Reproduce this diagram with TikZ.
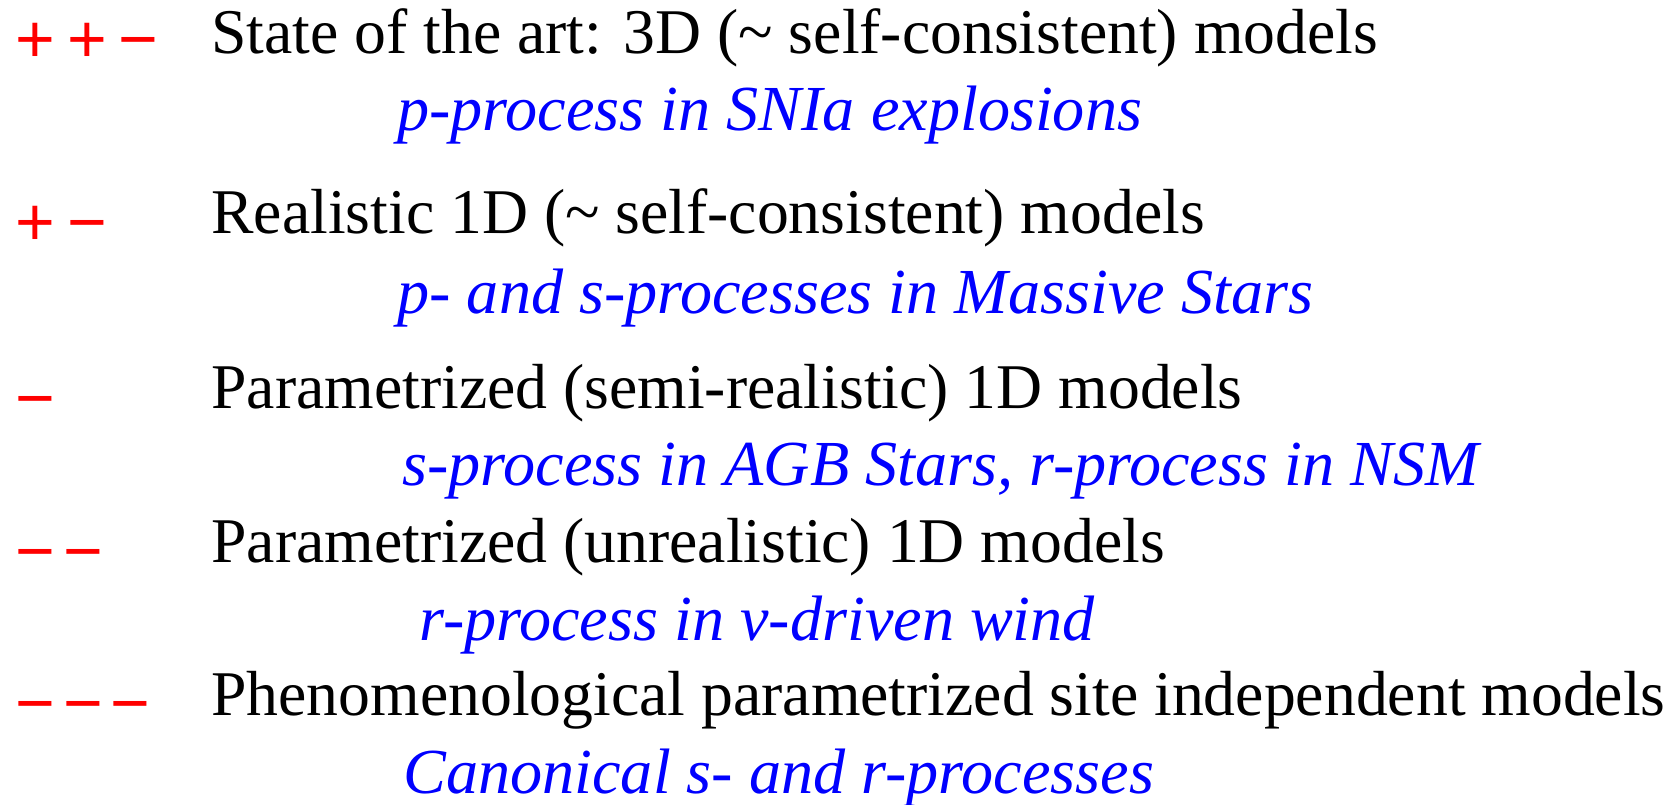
\documentclass[tikz,border=0pt]{standalone}
\usepackage{fontspec}
\setmainfont{Liberation Serif}
\newfontfamily\signfont{Liberation Sans}
\usepackage{tikz}
\tikzset{model/.style = {anchor=base west, inner sep=0,
                         font=\fontsize{31.85pt}{38pt}\selectfont}}
\tikzset{site/.style = {anchor=base west, inner sep=0, text=blue,
                        font=\fontsize{32.1pt}{38pt}\selectfont\itshape}}
\tikzset{grade/.style = {anchor=base west, inner sep=0, text=red,
                         font=\fontsize{34pt}{40pt}\signfont}}

\begin{document}
\begin{tikzpicture}[x=0.5pt, y=-0.5pt]
      \useasboundingbox (0,0) rectangle (1677,804);

      \node[grade] (g1) at (15,62) {+\kern6pt+\kern6pt−};
      \node[model] (m1) at (211,53) {State of the art: 3D (\textasciitilde{} self-consistent) models};
      \node[site] (s1) at (397,130) {p-process in SNIa explosions};

      \node[grade] (g2) at (15,245) {+\kern6pt−};
      \node[model] (m2) at (211,233) {Realistic 1D (\textasciitilde{} self-consistent) models};
      \node[site] (s2) at (397,313) {p- and s-processes in Massive Stars};

      \node[grade] (g3) at (15,421) {−};
      \node[model] (m3) at (211,408) {Parametrized (semi-realistic) 1D models};
      \node[site] (s3) at (402,485) {s-process in AGB Stars, r-process in NSM};

      \node[grade] (g4) at (15,574) {−\kern4pt−};
      \node[model] (m4) at (211,562) {Parametrized (unrealistic) 1D models};
      \node[site] (s4) at (419,640) {r-process in ν-driven wind};

      \node[grade] (g5) at (15,726) {−\kern4pt−\kern4pt−};
      \node[model] (m5) at (211,715) {Phenomenological parametrized site independent models};
      \node[site] (s5) at (403,793) {Canonical s- and r-processes};
\end{tikzpicture}
\end{document}
